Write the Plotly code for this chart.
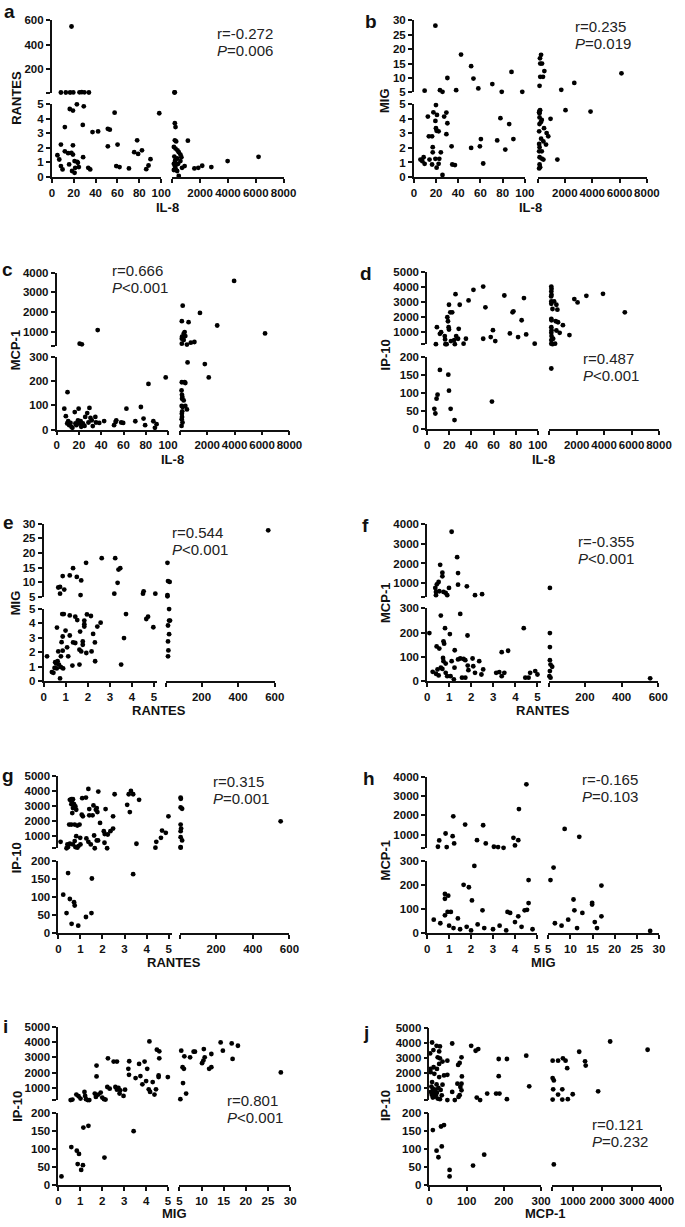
import plotly.graph_objects as go

W, H = 685, 1227

# ------------------------------------------------------------------ data
# each list holds (x value, y value) pairs

# a: IL-8 vs RANTES
a_points = [
    (18, 548), (8.3, 6), (12.8, 6), (16.7, 6), (19.6, 7), (25.3, 8), (27.4, 9), (29.8, 8), (33.9, 6),
    (160, 6), (180, 8),
    (5.1, 1.49), (6.8, 1.2), (8.3, 2.22), (8.3, 0.75), (9.8, 0.52), (11.9, 1.76), (11.9, 3.42), (14.9, 1.63),
    (15.8, 0.86), (16.4, 4.66), (17.9, 1.65), (18.5, 0.41), (19.3, 4.55), (19.3, 1.54), (19.3, 2.17),
    (20.8, 1.09), (20.8, 0.29), (21.4, 0.63), (22.9, 4.98), (23.2, 1.04), (24.7, 0.68), (23.8, 0.97),
    (28.3, 3.57), (28.6, 1.36), (29.2, 4.84), (33.3, 0.63), (35.1, 0.52), (37.2, 3.08), (42.3, 3.12),
    (51.2, 3.3), (53, 3.24), (51.2, 2.1), (57.4, 4.41), (60.1, 2.22), (58.9, 0.75), (61.9, 0.68),
    (70.5, 0.59), (75.3, 1.7), (78, 2.51), (78.9, 1.58), (82.4, 1.83), (86.3, 0.54), (88.4, 0.79),
    (90.2, 1.22), (98.2, 4.37),
    (187, 3.69), (234, 3.42), (187, 2.51), (281, 2.44), (117, 2.06), (234, 1.95), (374, 1.83), (468, 1.7),
    (585, 1.54), (655, 1.36), (351, 1.27), (585, 1.09), (421, 0.9), (117, 0.9), (187, 0.75), (234, 0.59),
    (117, 0.48), (351, 0.41), (468, 0.07), (702, 0.63), (889, 0.75), (1123, 2.49), (1591, 0.59),
    (1872, 0.63), (2153, 0.77), (2808, 0.68), (3978, 1.09), (6201, 1.38), (150, 1.4), (200, 1.1),
    (300, 0.85), (250, 1.2),
]

# b: IL-8 vs MIG
b_points = [
    (19.4, 28.1), (9.7, 5.6), (23.5, 5.8), (25.8, 5.2), (30.2, 10.0), (38.1, 5.8), (42.5, 18.1), (51.6, 14.1),
    (53.7, 9.8), (58.1, 6.4), (70.7, 7.9), (79.2, 5.2), (88, 12.1), (97.7, 5.2),
    (150, 7.3), (180, 16.8), (260, 18.0), (200, 15.0), (330, 15.0), (200, 10.4), (400, 10.4), (500, 12.4),
    (1737, 5.9), (2689, 8.3), (6140, 11.6),
    (5.9, 1.2), (7.6, 1.09), (8.8, 1.36), (9.7, 0.91), (12.6, 4.16), (13.5, 2.8), (14.1, 1.2), (16.4, 2.8),
    (17, 2.05), (17, 1.7), (16.4, 0.86), (17.6, 4.45), (19.4, 3.86), (19.9, 4.95), (19.9, 3.36), (20.5, 3.18),
    (19.4, 1.25), (20.5, 0.64), (20.8, 4.27), (22.3, 3.14), (22.3, 0.91), (22.9, 1.25), (24.3, 1.7),
    (25.8, 0.14), (27.3, 4.16), (29.3, 4.43), (29.3, 2.95), (30.2, 3.7), (34, 2.11), (34.6, 0.86), (37, 0.82),
    (51.6, 2.0), (60.4, 2.61), (59.5, 2.11), (62.5, 0.93), (75.1, 2.52), (78, 4.05), (82.4, 1.89),
    (85.9, 3.64), (89.7, 2.61),
    (150, 4.55), (190, 4.6), (143, 4.39), (120, 4.45), (150, 4.1), (310, 3.93), (240, 3.77), (143, 3.64),
    (476, 3.36), (120, 3.14), (666, 3.02), (785, 2.8), (262, 2.64), (430, 2.45), (620, 2.23), (120, 2.27),
    (150, 2.05), (120, 1.77), (310, 1.77), (150, 1.36), (310, 1.27), (430, 1.2), (150, 0.86), (190, 0.68),
    (120, 0.59), (952, 4.0), (1452, 1.2), (2047, 4.6), (3879, 4.5),
]

# c: IL-8 vs MCP-1
c_points = [
    (36.8, 1100), (20.6, 417), (22.6, 383),
    (3964, 3584), (214, 2334), (1472, 1967), (150, 1550), (641, 1500), (2730, 1333), (6220, 933), (356, 1000),
    (285, 917), (404, 800), (166, 767), (150, 667), (285, 600), (150, 417), (522, 367), (807, 467), (1068, 500),
    (9.7, 154), (6.8, 86), (8.2, 55), (10.3, 34), (11.2, 18), (9.4, 25), (12.4, 27), (13.2, 11), (14.1, 7),
    (16.2, 72), (16.8, 25), (17.6, 18), (19.7, 86), (19.1, 38), (20, 25), (21.5, 34), (22, 11), (22.6, 20),
    (23.5, 25), (25, 15), (25.6, 52), (27.4, 68), (28.5, 29), (29.4, 89), (30.3, 48), (31.5, 38), (32.4, 14),
    (34.7, 52), (35.3, 29), (38.2, 27), (42.6, 35), (51.5, 18), (52.9, 31), (53.5, 38), (57.9, 29),
    (59.7, 27), (62.6, 86), (70.6, 34), (75.6, 93), (78, 45), (79.4, 18), (82.4, 188), (86.8, 34), (88.2, 7),
    (89.7, 22), (97.9, 215),
    (150, 195), (356, 195), (404, 192), (130, 161), (160, 143), (190, 134), (166, 127), (285, 120), (140, 97),
    (214, 93), (404, 97), (522, 83), (180, 75), (150, 65), (166, 52), (140, 42), (200, 29), (130, 15),
    (570, 277), (1828, 270), (2113, 215),
]

# d: IL-8 vs IP-10
d_points = [
    (8.8, 1345), (7.9, 210), (11.5, 905), (12.6, 1015), (15.9, 750), (16.2, 530), (16.5, 210), (17.6, 210),
    (18.2, 2006), (18.8, 1741), (19.4, 1345), (19.7, 1191), (19.7, 2842), (20.9, 2336), (22.6, 2336),
    (21.5, 420), (24.4, 486), (25.6, 3547), (26.2, 750), (27.9, 574), (28.5, 1235), (29.4, 2842), (25, 210),
    (32.9, 244), (35, 574), (37.4, 3129), (41.8, 3833), (50.6, 4053), (52.6, 2666), (50.6, 574), (57.4, 684),
    (59.4, 1147), (61.5, 420), (69.7, 3459), (74.7, 927), (77.1, 2336), (77.9, 2402), (82.1, 684),
    (85.3, 1807), (87.4, 3283), (89.4, 861), (97.1, 244),
    (150, 4053), (166, 3900), (150, 3723), (166, 3503), (140, 3393), (150, 3063), (150, 2908), (356, 3063),
    (522, 2842), (237, 2556), (594, 2512), (150, 1895), (166, 1807), (475, 1741), (641, 1675), (150, 1345),
    (166, 1147), (522, 1125), (760, 971), (150, 971), (166, 750), (285, 574), (150, 486), (237, 210),
    (427, 244), (150, 244), (997, 1477), (1472, 817), (1828, 3217), (2065, 2996), (2706, 3437),
    (3917, 3569), (5508, 2336),
    (6.5, 56), (7.4, 43), (8.5, 84), (9.4, 95), (11.5, 163), (19.1, 150), (19.7, 106), (21.2, 56),
    (24.7, 25), (58.5, 76),
    (150, 167),
]

# e: RANTES vs MIG
e_points = [
    (564, 27.7), (0.66, 8.2), (0.74, 8.4), (0.86, 12.1), (0.93, 7.5), (0.74, 6.1), (1.33, 14.8), (1.18, 12.3),
    (1.5, 11.8), (1.7, 10.6), (1.67, 5.6), (1.92, 16.6), (2.63, 18.2), (3.24, 18.2), (3.39, 14.3),
    (3.47, 14.8), (3.35, 9.8), (3.2, 6.1), (4.5, 6.1), (4.53, 6.9), (5.06, 6.1), (14, 16.6), (17, 10.4),
    (26, 10.1), (14, 5.6), (14, 5.2),
    (0.84, 4.63), (0.91, 4.63), (0.6, 3.7), (0.86, 3.08), (0.81, 2.69), (0.99, 3.49), (1.18, 3.15),
    (1.18, 4.54), (1.43, 4.45), (1.52, 4.22), (1.65, 3.42), (1.84, 4.18), (1.84, 3.93), (1.84, 3.77),
    (1.96, 4.61), (2.14, 4.5), (2.24, 3.26), (2.43, 3.77), (2.58, 4.04), (1.33, 2.67), (1.43, 2.63),
    (1.77, 2.74), (1.77, 2.51), (1.62, 2.17), (1.7, 2.05), (1.93, 1.94), (2.17, 2.05), (2.32, 2.67),
    (0.66, 2.05), (0.86, 2.1), (1.06, 2.33), (1.11, 1.71), (0.78, 1.71), (1.3, 1.07), (1.62, 1.14),
    (2.33, 1.37), (0.52, 1.3), (0.56, 1.21), (0.63, 1.37), (0.69, 1.14), (0.78, 0.96), (0.88, 0.87),
    (0.49, 0.91), (0.59, 0.87), (0.37, 0.62), (0.44, 0.57), (0.74, 0.18), (0.15, 1.71), (3.73, 4.63),
    (3.64, 2.97), (3.51, 1.14), (4.65, 4.29), (4.73, 4.45), (4.97, 3.72),
    (23, 4.98), (23, 4.18), (28, 4.18), (17, 3.84), (23, 3.24), (17, 2.74), (19, 2.12), (17, 1.71),
]

# f: RANTES vs MCP-1
f_points = [
    (1.11, 3614), (1.36, 2318), (0.59, 1932), (0.69, 1528), (0.69, 1343), (1.4, 1511), (0.52, 1057),
    (0.44, 939), (0.37, 754), (1.4, 922), (1.8, 838), (0.4, 552), (0.55, 586), (0.74, 552), (0.4, 384),
    (0.84, 502), (0.91, 384), (0.99, 754), (2.17, 384), (2.49, 435), (8.6, 754),
    (0.1, 198), (0.62, 270), (0.43, 143), (0.55, 134), (0.81, 218), (1.03, 194), (0.74, 164), (0.77, 154),
    (1.25, 127), (1.5, 277), (1.83, 188), (0.72, 95), (0.74, 82), (1.11, 82), (1.4, 89), (1.5, 93),
    (1.65, 91), (1.73, 86), (2.06, 93), (2.36, 82), (0.84, 72), (1.24, 55), (0.25, 38), (0.47, 48),
    (0.62, 55), (0.69, 50), (1.87, 45), (2.09, 61), (1.84, 64), (0.52, 23), (0.4, 30), (0.84, 34),
    (0.91, 20), (1.06, 20), (1.21, 7), (1.58, 14), (1.73, 14), (2.17, 34), (2.54, 48), (2.46, 27),
    (3.13, 34), (3.27, 37), (3.5, 34), (3.38, 20), (3.38, 119), (3.67, 125), (4.38, 218), (4.45, 14),
    (4.6, 14), (4.67, 34), (4.9, 41), (5.0, 27),
    (8.6, 198), (8.6, 140), (8.6, 86), (12, 68), (21, 59), (8.6, 41), (6, 20), (12, 14), (556, 11),
]

# g: RANTES vs IP-10
g_points = [
    (0.1, 638), (0.37, 210), (0.41, 463), (0.44, 288), (0.52, 507), (0.49, 1778), (0.59, 1778), (0.52, 3422),
    (0.59, 3466), (0.66, 3466), (0.62, 3269), (0.59, 3137), (0.71, 3137), (0.66, 2874), (0.77, 2984),
    (0.81, 2765), (0.63, 2545), (0.74, 1778), (0.86, 1712), (0.96, 1778), (0.66, 463), (0.74, 682),
    (0.77, 288), (0.81, 1011), (0.86, 244), (0.91, 353), (1.0, 463), (0.99, 901), (1.08, 3532), (1.06, 2436),
    (1.11, 2326), (1.25, 3576), (1.36, 4146), (1.4, 2392), (1.27, 858), (1.36, 638), (1.47, 463),
    (1.4, 2809), (1.59, 3050), (1.7, 2765), (1.77, 2611), (1.74, 2874), (1.55, 2392), (1.62, 1055),
    (1.74, 726), (1.65, 210), (1.81, 3970), (1.89, 1888), (1.8, 726), (2.14, 2809), (2.09, 573),
    (2.06, 1340), (2.21, 210), (2.24, 1121), (2.36, 1340), (2.48, 2326), (2.55, 3795), (2.48, 1515),
    (2.1, 1150), (3.12, 3093), (3.19, 3795), (3.24, 2611), (3.29, 4014), (3.39, 3795), (3.66, 3422),
    (3.54, 507), (4.4, 244), (4.44, 638), (4.65, 901), (4.7, 1384), (4.87, 1230), (4.99, 2326),
    (6, 3576), (7, 3488), (6, 2918), (14, 2830), (6, 1778), (8.6, 1515), (6, 1340), (6, 945), (14, 726),
    (6, 288), (6, 244), (552, 1997),
    (0.44, 166), (0.22, 106), (0.52, 94), (0.71, 85), (0.74, 76), (0.37, 55), (1.52, 151), (1.5, 55),
    (1.25, 44), (3.39, 163), (0.6, 25), (0.9, 20),
]

# h: MIG vs MCP-1
h_points = [
    (0.55, 709), (0.49, 385), (0.84, 1067), (0.89, 368), (1.19, 1954), (1.16, 931), (1.23, 556),
    (1.73, 1528), (2.27, 726), (2.55, 1494), (2.67, 556), (3.04, 385), (3.23, 368), (3.48, 330),
    (3.93, 846), (4.0, 453), (4.15, 726), (4.18, 2329), (4.52, 3608), (8.7, 1306), (12, 897),
    (2.15, 279), (1.66, 200), (1.9, 190), (2.04, 135), (0.81, 162), (0.96, 155), (0.81, 142), (0.81, 73),
    (0.93, 87), (1.08, 87), (2.52, 94), (3.66, 87), (3.78, 83), (4.15, 69), (4.44, 94), (4.55, 96),
    (4.62, 124), (4.62, 220), (5.5, 220), (6.2, 272), (10.7, 139), (10.9, 94), (12.7, 83), (14.9, 125),
    (14.9, 118), (17, 197), (17, 69),
    (0.3, 55), (0.6, 40), (1.0, 30), (1.2, 20), (1.5, 15), (1.8, 25), (2.0, 10), (2.3, 35), (2.6, 20),
    (3.0, 15), (3.3, 30), (3.6, 10), (4.0, 45), (4.3, 25), (4.8, 15), (1.4, 60), (6.5, 40), (8, 30),
    (9.5, 55), (11.5, 20), (15.5, 45), (16, 20), (28, 8),
]

# i: MIG vs IP-10
i_points = [
    (0.56, 210), (0.64, 243), (0.82, 568), (0.92, 459), (1.01, 308), (1.19, 740), (1.22, 481), (1.26, 265),
    (1.34, 210), (1.41, 210), (1.74, 2470), (1.74, 1757), (1.66, 632), (1.71, 416), (1.82, 568), (1.93, 697),
    (2.0, 373), (2.08, 265), (2.15, 243), (2.23, 1065), (2.34, 957), (2.26, 2946), (2.52, 2730), (2.67, 2730),
    (2.6, 1065), (2.67, 892), (2.74, 1000), (2.82, 849), (2.79, 632), (2.97, 481), (3.04, 892), (3.19, 2254),
    (3.22, 1865), (3.23, 2751), (3.52, 1649), (3.68, 2578), (3.74, 1778), (3.83, 1238), (3.93, 2730),
    (4.0, 1454), (4.05, 2254), (4.15, 4048), (4.12, 913), (4.18, 740), (4.3, 1389), (4.38, 568), (4.45, 913),
    (4.49, 3508), (4.6, 3400), (4.6, 2946), (4.57, 1822), (4.57, 1713), (4.99, 1713),
    (5.2, 265), (5.4, 3443), (5.7, 2362), (6.0, 2254), (5.8, 1324), (6.5, 632), (6.1, 3075), (7.4, 3010),
    (8.2, 3378), (8.5, 3378), (10.1, 2622), (10.4, 2795), (10.5, 3551), (10.7, 3010), (11.7, 2254),
    (12.2, 2362), (12.2, 3227), (14.3, 3984), (14.8, 3443), (16.8, 3919), (17, 2903), (18.2, 3767),
    (27.9, 2016),
    (0.14, 24), (0.59, 105), (0.84, 95), (0.94, 86), (0.88, 58), (1.12, 55), (1.04, 42), (1.14, 159),
    (1.37, 164), (2.1, 76), (3.43, 149),
]

# j: MCP-1 vs IP-10
j_points = [
    (7, 4015), (10.5, 3514), (1.7, 3296), (19, 3797), (28, 3753), (26, 3426), (22, 3034), (28, 2969),
    (2.6, 2271), (11, 2380), (20, 2271), (26, 2598), (35, 2751), (48, 2816), (13, 1944), (26, 1726),
    (39, 1835), (48, 1879), (3, 2053), (7, 1399), (19, 1246), (35, 1225), (9, 963), (16, 898), (24, 1007),
    (4, 745), (13, 636), (17, 527), (9, 374), (22, 309), (28, 265), (48, 210), (61, 3950), (61, 745),
    (68, 210), (77, 2533), (81, 2663), (86, 3034), (87, 1770), (86, 1290), (75, 1290), (83, 1072), (86, 854),
    (81, 527), (78, 418), (112, 3797), (124, 3470), (131, 3579), (127, 374), (136, 210), (155, 636),
    (179, 636), (188, 636), (186, 2925), (186, 1791), (208, 2925), (208, 265), (260, 3143), (268, 1116),
    (5, 1100), (12, 820), (20, 700), (6, 560), (14, 430), (30, 880), (33, 520),
    (310, 1660), (350, 1508), (310, 2816), (494, 2816), (659, 2969), (748, 2816), (804, 2315), (328, 919),
    (494, 571), (637, 919), (310, 244), (637, 244), (825, 265), (992, 592), (1212, 3404), (1411, 2773),
    (1433, 2489), (1855, 789), (2264, 4080), (3536, 3535),
    (9, 152), (31, 162), (39, 166), (19, 95), (33, 107), (24, 77), (147, 84), (54, 42), (54, 24),
    (117, 54), (350, 57),
]

# tick labels
il8_left_ticks = [0, 20, 40, 60, 80, 100]
il8_right_ticks = [2000, 4000, 6000, 8000]
rantes_left_ticks = [0, 1, 2, 3, 4, 5]
rantes_right_ticks = [200, 400, 600]
mig_left_ticks = [0, 1, 2, 3, 4, 5]
mig_right_ticks = [5, 10, 15, 20, 25, 30]
mcp_left_ticks = [0, 100, 200, 300]
mcp_right_ticks = [1000, 2000, 3000, 4000]
small5_ticks = [0, 1, 2, 3, 4, 5]
mig_top_ticks = [5, 10, 15, 20, 25, 30]
rantes_top_ticks = [200, 400, 600]
mcp_bottom_ticks = [0, 100, 200, 300]
mcp_top_ticks = [1000, 2000, 3000, 4000]
ip_bottom_ticks = [0, 50, 100, 150, 200]
ip_top_ticks = [1000, 2000, 3000, 4000, 5000]

# r / P statistics
stats = {
    "a": ("r=-0.272", "=0.006"), "b": ("r=0.235", "=0.019"), "c": ("r=0.666", "<0.001"),
    "d": ("r=0.487", "<0.001"), "e": ("r=0.544", "<0.001"), "f": ("r=-0.355", "<0.001"),
    "g": ("r=0.315", "=0.001"), "h": ("r=-0.165", "=0.103"), "i": ("r=0.801", "<0.001"),
    "j": ("r=0.121", "=0.232"),
}

# ------------------------------------------------------------------ layout geometry (pixels)
# xl/xr: (x0, x1, range, labelled ticks, unlabelled break tick)
# ybot/ytop: (y_top_px, y_bottom_px, range, labelled ticks, unlabelled break tick)
panels = [
    dict(key="a", pts=a_points, xb=100, yb=5, xt="IL-8", yt_="RANTES",
         xl=(50, 162, [0, 100], il8_left_ticks, None), xr=(173.3, 287.3, [0, 8000], il8_right_ticks, 0),
         ybot=(99, 172.7, [0, 5], small5_ticks, None), ytop=(14.3, 87.5, [5, 600], rantes_top_ticks, 5),
         letter=(7, 6), xtitle=(168.5, 203), ytitle=(13, 93), stat=(217, 28)),
    dict(key="b", pts=b_points, xb=100, yb=5, xt="IL-8", yt_="MIG",
         xl=(420.7, 534.3, [0, 100], il8_left_ticks, None), xr=(547.3, 659.3, [0, 8000], il8_right_ticks, 0),
         ybot=(99.3, 172.7, [0, 5], small5_ticks, None), ytop=(14.3, 87.3, [5, 30], mig_top_ticks, None),
         letter=(377, 15.5), xtitle=(540, 203), ytitle=(390, 95), stat=(584, 21)),
    dict(key="c", pts=c_points, xb=100, yb=300, xt="IL-8", yt_="MCP-1",
         xl=(55, 169, [0, 100], il8_left_ticks, None), xr=(181, 293.3, [0, 8000], il8_right_ticks, 0),
         ybot=(354.3, 427.7, [0, 300], mcp_bottom_ticks, None), ytop=(269.3, 343.3, [300, 4000], mcp_top_ticks, 300),
         letter=(5, 266), xtitle=(174, 457.5), ytitle=(13, 348), stat=(110, 267)),
    dict(key="d", pts=d_points, xb=100, yb=200, xt="IL-8", yt_="IP-10",
         xl=(434.3, 547.7, [0, 100], il8_left_ticks, None), xr=(559.3, 671.7, [0, 8000], il8_right_ticks, 0),
         ybot=(354, 427.3, [0, 200], ip_bottom_ticks, None), ytop=(269, 341.7, [200, 5000], ip_top_ticks, 200),
         letter=(372, 270.5), xtitle=(553, 457.5), ytitle=(392, 352), stat=(591.7, 356)),
    dict(key="e", pts=e_points, xb=5.1, yb=5, xt="RANTES", yt_="MIG",
         xl=(41.7, 158, [0, 5.15], rantes_left_ticks, None), xr=(166.7, 278.3, [5, 600], rantes_right_ticks, 5),
         ybot=(608.7, 681.7, [0, 5], small5_ticks, None), ytop=(522.7, 596.7, [5, 30], mig_top_ticks, None),
         letter=(6, 522), xtitle=(160, 711.7), ytitle=(12.5, 603), stat=(171, 532)),
    dict(key="f", pts=f_points, xb=5.1, yb=300, xt="RANTES", yt_="MCP-1",
         xl=(434.3, 550.6, [0, 5.15], rantes_left_ticks, None), xr=(559.3, 670.9, [5, 600], rantes_right_ticks, 5),
         ybot=(608.3, 681.7, [0, 300], mcp_bottom_ticks, None), ytop=(523.3, 596.7, [300, 4000], mcp_top_ticks, 300),
         letter=(371.5, 525), xtitle=(552.6, 711.7), ytitle=(391, 603), stat=(586.7, 541)),
    dict(key="g", pts=g_points, xb=5.1, yb=200, xt="RANTES", yt_="IP-10",
         xl=(56.7, 173, [0, 5.15], rantes_left_ticks, None), xr=(181.7, 293.3, [5, 600], rantes_right_ticks, 5),
         ybot=(863.3, 936, [0, 200], ip_bottom_ticks, None), ytop=(777.7, 850.7, [200, 5000], ip_top_ticks, 200),
         letter=(5, 777), xtitle=(175, 966), ytitle=(14, 860), stat=(212.7, 783.3)),
    dict(key="h", pts=h_points, xb=5.0, yb=300, xt="MIG", yt_="MCP-1",
         xl=(434.3, 546.7, [0, 5], mig_left_ticks, None), xr=(558.3, 671.7, [5, 30], mig_right_ticks, None),
         ybot=(863.3, 936, [0, 300], mcp_bottom_ticks, None), ytop=(778.3, 850.7, [300, 4000], mcp_top_ticks, 300),
         letter=(375, 780), xtitle=(553, 966), ytitle=(392, 863), stat=(590.7, 781)),
    dict(key="i", pts=i_points, xb=5.0, yb=200, xt="MIG", yt_="IP-10",
         xl=(56.7, 169, [0, 5], mig_left_ticks, None), xr=(180.7, 294, [5, 30], mig_right_ticks, None),
         ybot=(1117.7, 1190.7, [0, 200], ip_bottom_ticks, None), ytop=(1031, 1105, [200, 5000], ip_top_ticks, 200),
         letter=(3, 1031), xtitle=(175.3, 1219), ytitle=(14, 1111), stat=(227.7, 1105.7)),
    dict(key="j", pts=j_points, xb=300, yb=200, xt="MCP-1", yt_="IP-10",
         xl=(436.7, 551, [0, 300], mcp_left_ticks, None), xr=(562.5, 674, [300, 4000], mcp_right_ticks, 300),
         ybot=(1117.7, 1190.7, [0, 200], ip_bottom_ticks, None), ytop=(1031.7, 1105, [200, 5000], ip_top_ticks, 200),
         letter=(372, 1037), xtitle=(555.3, 1219), ytitle=(391, 1110), stat=(601, 1130)),
]

FONT = "Liberation Sans, Arial, Helvetica, sans-serif"
INK = "#111111"


def fmt(v):
    return str(int(v)) if float(v).is_integer() else str(v)


def ticks(labelled, brk):
    vals = list(labelled)
    text = [fmt(v) for v in labelled]
    if brk is not None and brk not in vals:
        vals = [brk] + vals
        text = [""] + text
    return vals, text


def axis_common():
    return dict(showline=True, linecolor=INK, linewidth=1.8, ticks="outside", ticklen=4, tickwidth=1.6,
                tickcolor=INK, showgrid=False, zeroline=False, tickangle=0, fixedrange=True,
                tickfont=dict(family=FONT, size=11.5, color=INK, weight="bold"), tickmode="array")


def px(x, y):
    return x / W, 1 - y / H


fig = go.Figure()
layout = {}
annotations = []

for p_i, p in enumerate(panels):
    xl_id, xr_id = 2 * p_i + 1, 2 * p_i + 2
    yb_id, yt_id = 2 * p_i + 1, 2 * p_i + 2

    def name(prefix, k):
        return prefix + ("" if k == 1 else str(k))

    for k, spec in ((xl_id, p["xl"]), (xr_id, p["xr"])):
        x0, x1, rng, lab, brk = spec
        tv, tt = ticks(lab, brk)
        ax = axis_common()
        ax.update(domain=[x0 / W, x1 / W], range=rng, tickvals=tv, ticktext=tt, anchor=name("y", yb_id))
        layout[name("xaxis", k)] = ax
    for k, spec in ((yb_id, p["ybot"]), (yt_id, p["ytop"])):
        yt0, yb0, rng, lab, brk = spec
        tv, tt = ticks(lab, brk)
        ax = axis_common()
        ax.update(domain=[1 - yb0 / H, 1 - yt0 / H], range=rng, tickvals=tv, ticktext=tt, anchor=name("x", xl_id))
        layout[name("yaxis", k)] = ax

    groups = {}
    for xv, yv in p["pts"]:
        xa = xl_id if xv <= p["xb"] else xr_id
        ya = yb_id if yv <= p["yb"] else yt_id
        groups.setdefault((xa, ya), ([], []))
        groups[(xa, ya)][0].append(xv)
        groups[(xa, ya)][1].append(yv)
    for (xa, ya), (xs, ys) in groups.items():
        fig.add_trace(go.Scatter(x=xs, y=ys, mode="markers", xaxis=name("x", xa), yaxis=name("y", ya),
                                 marker=dict(size=4.8, color="black"), cliponaxis=False,
                                 showlegend=False, hoverinfo="skip"))

    lx, ly = px(*p["letter"])
    annotations.append(dict(text="<b>%s</b>" % p["key"], x=lx, y=ly, xref="paper", yref="paper",
                            showarrow=False, xanchor="center", yanchor="middle",
                            font=dict(family=FONT, size=19, color=INK)))
    tx, ty = px(*p["xtitle"])
    annotations.append(dict(text="<b>%s</b>" % p["xt"], x=tx, y=ty, xref="paper", yref="paper",
                            showarrow=False, xanchor="center", yanchor="middle",
                            font=dict(family=FONT, size=13, color=INK)))
    vx, vy = px(*p["ytitle"])
    annotations.append(dict(text="<b>%s</b>" % p["yt_"], x=vx, y=vy, xref="paper", yref="paper",
                            showarrow=False, xanchor="center", yanchor="middle", textangle=-90,
                            font=dict(family=FONT, size=13, color=INK)))
    r_txt, p_txt = stats[p["key"]]
    sx, sy = p["stat"]
    for line, dy in ((r_txt, 0), ("<i>P</i>" + p_txt.replace("<", "&lt;"), 17)):
        ax_, ay_ = px(sx, sy + dy)
        annotations.append(dict(text=line, x=ax_, y=ay_, xref="paper", yref="paper", showarrow=False,
                                xanchor="left", yanchor="middle",
                                font=dict(family=FONT, size=15, color="#222222")))

fig.update_layout(**layout)
fig.update_layout(width=W, height=H, margin=dict(l=0, r=0, t=0, b=0), paper_bgcolor="white",
                  plot_bgcolor="rgba(0,0,0,0)", showlegend=False, annotations=annotations)

fig.write_html("out.html", config={"displayModeBar": False},
               post_script="document.body.style.margin='0';document.body.style.overflow='hidden';")
